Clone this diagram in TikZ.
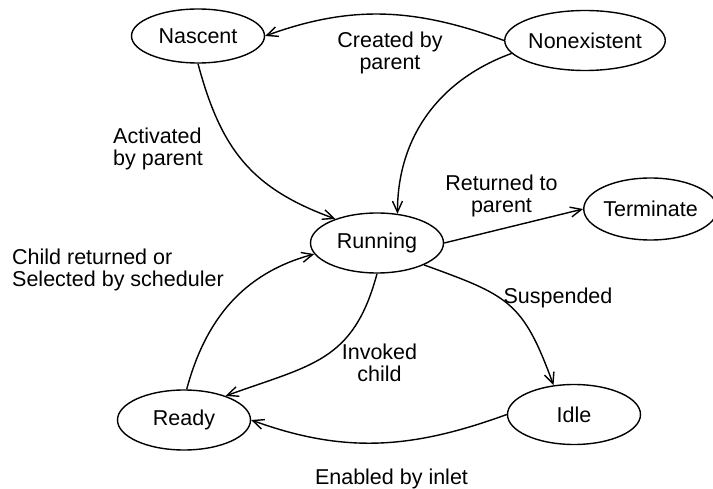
\documentclass[tikz,border=0pt]{standalone}
\usepackage{fontspec}
\setmainfont{Liberation Sans}
\usetikzlibrary{shapes.geometric, arrows.meta}

\begin{document}
\begin{tikzpicture}[
    x=1pt, y=1pt,
    state/.style={ellipse, draw, line width=1.4pt, inner sep=0pt, minimum width=133pt, minimum height=60pt, font=\fontsize{21.5}{22}\selectfont},
    lbl/.style={font=\fontsize{21.5}{22}\selectfont, align=center, inner sep=0pt},
    arr/.style={-{Straight Barb[length=11pt, width=10pt]}, line width=1.4pt},
]
\useasboundingbox (0,0) rectangle (713,488);
\node[state, minimum height=54pt] (nascent) at (198,452) {Nascent};
\node[state] (nonex) at (585,447.5) {Nonexistent};
\node[state] (running) at (377,245) {Running};
\node[state, minimum width=123pt, minimum height=62pt] (terminate) at (650.5,279) {Terminate};
\node[state] (ready) at (184,68) {Ready};
\node[state] (idle) at (574,73.5) {Idle};

\node[lbl] (created) at (390,435.5) {Created by\\parent};
\node[lbl, align=left, anchor=west] (activated) at (113,339.5) {Activated\\by parent};
\node[lbl, align=left, anchor=west] (childret) at (12,218.5) {Child returned or\\Selected by scheduler};
\node[lbl] (returned) at (501.5,292.5) {Returned to\\parent};
\node[lbl, anchor=base] (suspended) at (558,184) {Suspended};
\node[lbl] (invoked) at (379.5,125.5) {Invoked\\child};
\node[lbl, anchor=base] (enabled) at (391.5,4) {Enabled by inlet};

\draw[arr] (nonex.west) to[out=160, in=20] (nascent.east);
\draw[arr] (nonex.190) to[out=200, in=90] (running.55);
\draw[arr] (nascent.south) to[out=-75, in=160, looseness=1.1] (running.150);
\draw[arr] (running.east) -- (terminate.west);
\draw[arr] (running.-25) to[out=-20, in=110, looseness=1.3] (idle.125);
\draw[arr] (running.south) to[out=-105, in=20, looseness=1.2] (ready.30);
\draw[arr] (ready.85) to[out=75, in=195] (running.190);
\draw[arr] (idle.west) to[out=200, in=-20] (ready.east);
\end{tikzpicture}
\end{document}
